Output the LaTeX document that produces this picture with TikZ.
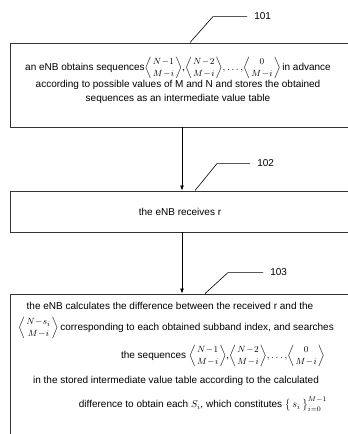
\documentclass[tikz,border=0pt]{standalone}
\usepackage{amsmath}
\usepackage{fontspec}
\setmainfont{Liberation Sans}
\usetikzlibrary{arrows.meta,positioning,calc}

\newcommand{\seqb}[2]{{\fontsize{9.5}{10}\selectfont$\left\langle\genfrac{}{}{0pt}{0}{#1}{#2}\right\rangle$}}

\begin{document}
\begin{tikzpicture}[
    x=1pt,y=-1pt,
    box/.style  = {rectangle,draw=black!80,line width=0.9pt,minimum width=350pt,inner sep=0pt},
    txt/.style  = {align=center,font=\fontsize{10}{15}\selectfont,inner sep=0pt},
    arr/.style  = {-{Latex[length=5pt,width=4pt]},line width=0.8pt},
    lead/.style = {line width=0.6pt},
    num/.style  = {font=\fontsize{10}{11}\selectfont,anchor=west,inner sep=0pt,xshift=7pt},
  ]
  \useasboundingbox (0,0) rectangle (348,434);
  \clip (0,0) rectangle (348,434);

  % steps
  \node[box,minimum height=84pt]  (s1) at (185,85)    {};
  \node[box,minimum height=41pt]  (s2) at (185,211.5) {};
  \node[box,minimum height=160pt] (s3) at (185,374)   {};

  \node[txt,anchor=north] (t1) at (178,57)
       {an eNB obtains sequences\seqb{N\!-\!1}{M\!-\!i},\seqb{N\!-\!2}{M\!-\!i}$,\dots,$\seqb{0}{M\!-\!i}\,in advance\\
        according to possible values of M and N and stores the obtained\\[-1pt]
        sequences as an intermediate value table};
  \node[txt] (t2) at (180,211.5) {the eNB receives r};
  \node[txt,anchor=north] (t3) at (176,302)
       {the eNB calculates the difference between the received r and the\hspace*{12pt}\\[6pt]
        \seqb{N\!-\!s_i}{M\!-\!i}\,corresponding to each obtained subband index, and searches\\[5pt]
        \hspace*{94pt}the sequences \seqb{N\!-\!1}{M\!-\!i},\seqb{N\!-\!2}{M\!-\!i}$,\dots,$\seqb{0}{M\!-\!i}\\[9pt]
        in the stored intermediate value table according to the calculated\hspace*{20pt}\\[9pt]
        \hspace*{54pt}difference to obtain each $S_i$, which constitutes $\bigl\{\,s_i\,\bigr\}_{i=0}^{M-1}$};

  % flow
  \coordinate (ax) at (182,0);
  \draw[arr] (s1.south -| ax) -- (s2.north -| ax);
  \draw[arr] (s2.south -| ax) -- (s3.north -| ax);

  % reference numerals
  \draw[lead] (s1.north -| 190,0) -- ++(23,-26) -- ++(34,0) node[num] (n1) {101};
  \draw[lead] (s2.north -| 195,0) -- ++(22,-27) -- ++(33,0) node[num] (n2) {102};
  \draw[lead] (s3.north -| 205,0) -- ++(23,-21) -- ++(35,0) node[num] (n3) {103};

\end{tikzpicture}
\end{document}
